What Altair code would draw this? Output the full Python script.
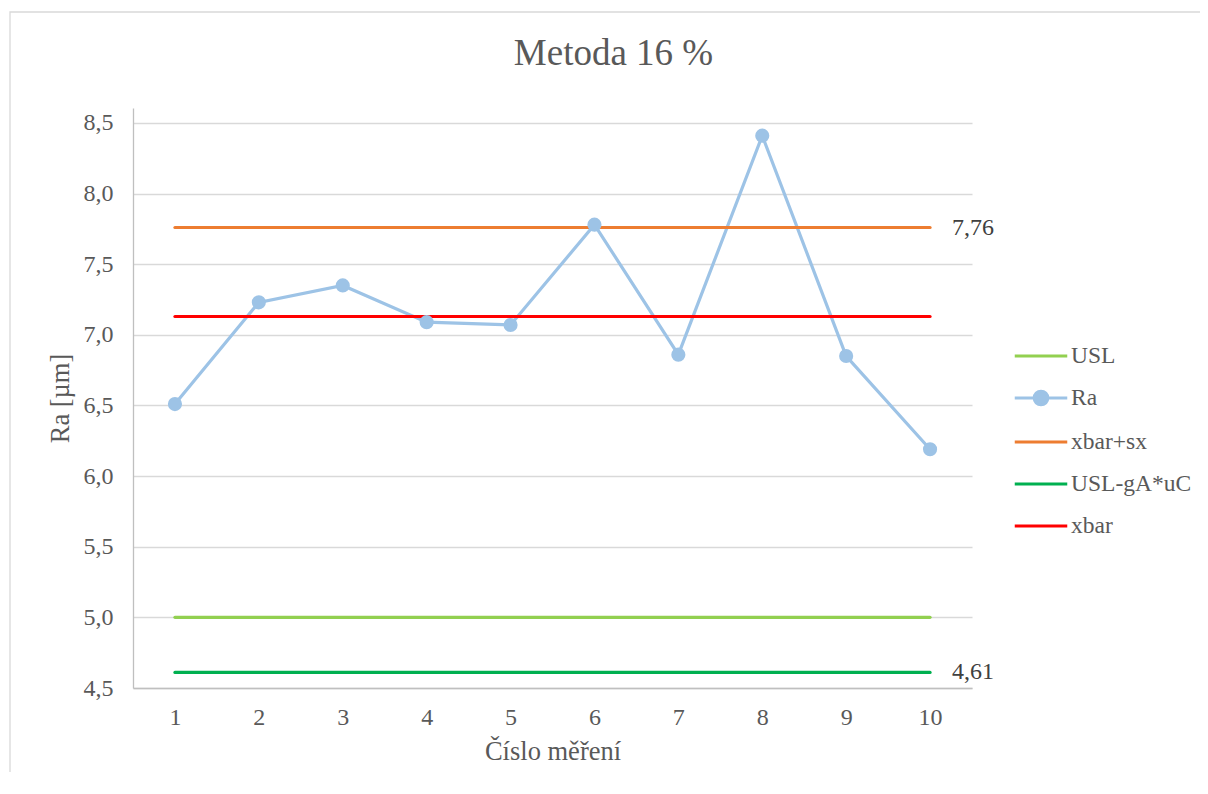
import altair as alt
import pandas as pd

# --- data ---
mereni = [1, 2, 3, 4, 5, 6, 7, 8, 9, 10]
ra = [6.51, 7.23, 7.35, 7.09, 7.07, 7.78, 6.86, 8.41, 6.85, 6.19]
usl = 5.0
xbar_sx = 7.76
usl_ga_uc = 4.61
xbar = 7.13

series_order = ["USL", "Ra", "xbar+sx", "USL-gA*uC", "xbar"]
series_colors = ["#92D050", "#9DC3E6", "#ED7D31", "#00B050", "#FF0000"]
y_ticks = [4.5, 5.0, 5.5, 6.0, 6.5, 7.0, 7.5, 8.0, 8.5]

rows = []
for i, x in enumerate(mereni):
    rows.append({"series": "USL", "x": x, "y": usl})
    rows.append({"series": "Ra", "x": x, "y": ra[i]})
    rows.append({"series": "xbar+sx", "x": x, "y": xbar_sx})
    rows.append({"series": "USL-gA*uC", "x": x, "y": usl_ga_uc})
    rows.append({"series": "xbar", "x": x, "y": xbar})
df = pd.DataFrame(rows)

labels_df = pd.DataFrame({
    "series": ["xbar+sx", "USL-gA*uC"],
    "x": [mereni[-1], mereni[-1]],
    "y": [xbar_sx, usl_ga_uc],
})
labels_df["text"] = labels_df["y"].map(lambda v: f"{v:.2f}".replace(".", ","))

FONT = "Liberation Serif"
TXT = "#595959"

line_path = "M-1.75,0L1.75,0"
ra_path = "M-1.75,0L1.75,0M-0.45,0A0.45,0.45,0,1,1,0.45,0A0.45,0.45,0,1,1,-0.45,0Z"
shape_range = [ra_path if s == "Ra" else line_path for s in series_order]

x_enc = alt.X("x:Q", scale=alt.Scale(domain=[0.5, 10.5], nice=False, zero=False),
              axis=alt.Axis(values=mereni, format="d", title="Číslo měření", grid=False, ticks=False,
                            labelPadding=17, titlePadding=9, labelFontSize=24,
                            titleFontSize=26.5, labelColor=TXT, titleColor=TXT,
                            labelFont=FONT, titleFont=FONT, titleFontWeight="normal",
                            domainColor="#BFBFBF", domainWidth=1.3))
y_enc = alt.Y("y:Q", scale=alt.Scale(domain=[4.5, 8.606], nice=False, zero=False),
              axis=alt.Axis(values=y_ticks, title="Ra [µm]", grid=True, gridColor="#D9D9D9",
                            gridWidth=1.3, ticks=False, labelPadding=20, titlePadding=9,
                            labelExpr="replace(format(datum.value, '.1f'), '.', ',')",
                            labelFontSize=24, titleFontSize=26.5, labelColor=TXT, titleColor=TXT,
                            labelFont=FONT, titleFont=FONT, titleFontWeight="normal",
                            domainColor="#BFBFBF", domainWidth=1.3))

# colour scale of the drawn marks (reversed order so that its hidden legend
# is not merged with the visible one)
color_scale = alt.Scale(domain=list(reversed(series_order)),
                        range=list(reversed(series_colors)))

base = alt.Chart(df)

lines = base.mark_line(strokeWidth=3.2, strokeCap="round").encode(
    x=x_enc, y=y_enc,
    color=alt.Color("series:N", scale=color_scale, legend=None),
    detail="series:N",
    order="x:Q",
)

points = base.transform_filter(alt.datum.series == "Ra").mark_point(
    filled=True, size=200, opacity=1
).encode(
    x="x:Q", y="y:Q",
    color=alt.Color("series:N", scale=color_scale, legend=None),
)

legend_kw = dict(title=None, orient="none", legendX=891, legendY=231,
                 symbolSize=900, symbolStrokeWidth=3.2, symbolOpacity=1,
                 labelFontSize=23.5, labelFont=FONT, labelColor=TXT,
                 labelOffset=13, rowPadding=13)

legend_layer = base.mark_point(filled=True, opacity=0).encode(
    x="x:Q", y="y:Q",
    fill=alt.Fill("series:N", scale=alt.Scale(domain=series_order, range=series_colors),
                  legend=alt.Legend(**legend_kw)),
    stroke=alt.Stroke("series:N", scale=alt.Scale(domain=series_order, range=series_colors),
                      legend=alt.Legend(**legend_kw)),
    shape=alt.Shape("series:N", scale=alt.Scale(domain=series_order, range=shape_range),
                    legend=alt.Legend(**legend_kw)),
)

text = alt.Chart(labels_df).mark_text(
    align="left", baseline="middle", dx=22, fontSize=24, font=FONT, color="#404040"
).encode(x="x:Q", y="y:Q", text="text:N")

frame = alt.Chart(pd.DataFrame({"a": [0]})).mark_rect(
    fillOpacity=0, stroke="#D9D9D9", strokeWidth=1.3
).encode(x=alt.value(-123), x2=alt.value(1085), y=alt.value(-96), y2=alt.value(700))

chart = alt.layer(frame, lines, points, legend_layer, text).properties(
    width=839, height=580,
    padding={"left": 125, "top": 100, "right": 228, "bottom": 84},
    autosize=alt.AutoSizeParams(type="none"),
    title=alt.TitleParams("Metoda 16 %", fontSize=37, font=FONT, color=TXT,
                          fontWeight="normal", dx=61, offset=-62),
).configure_view(stroke=None)

chart.save("out.html", embed_options={"renderer": "svg", "actions": False})
